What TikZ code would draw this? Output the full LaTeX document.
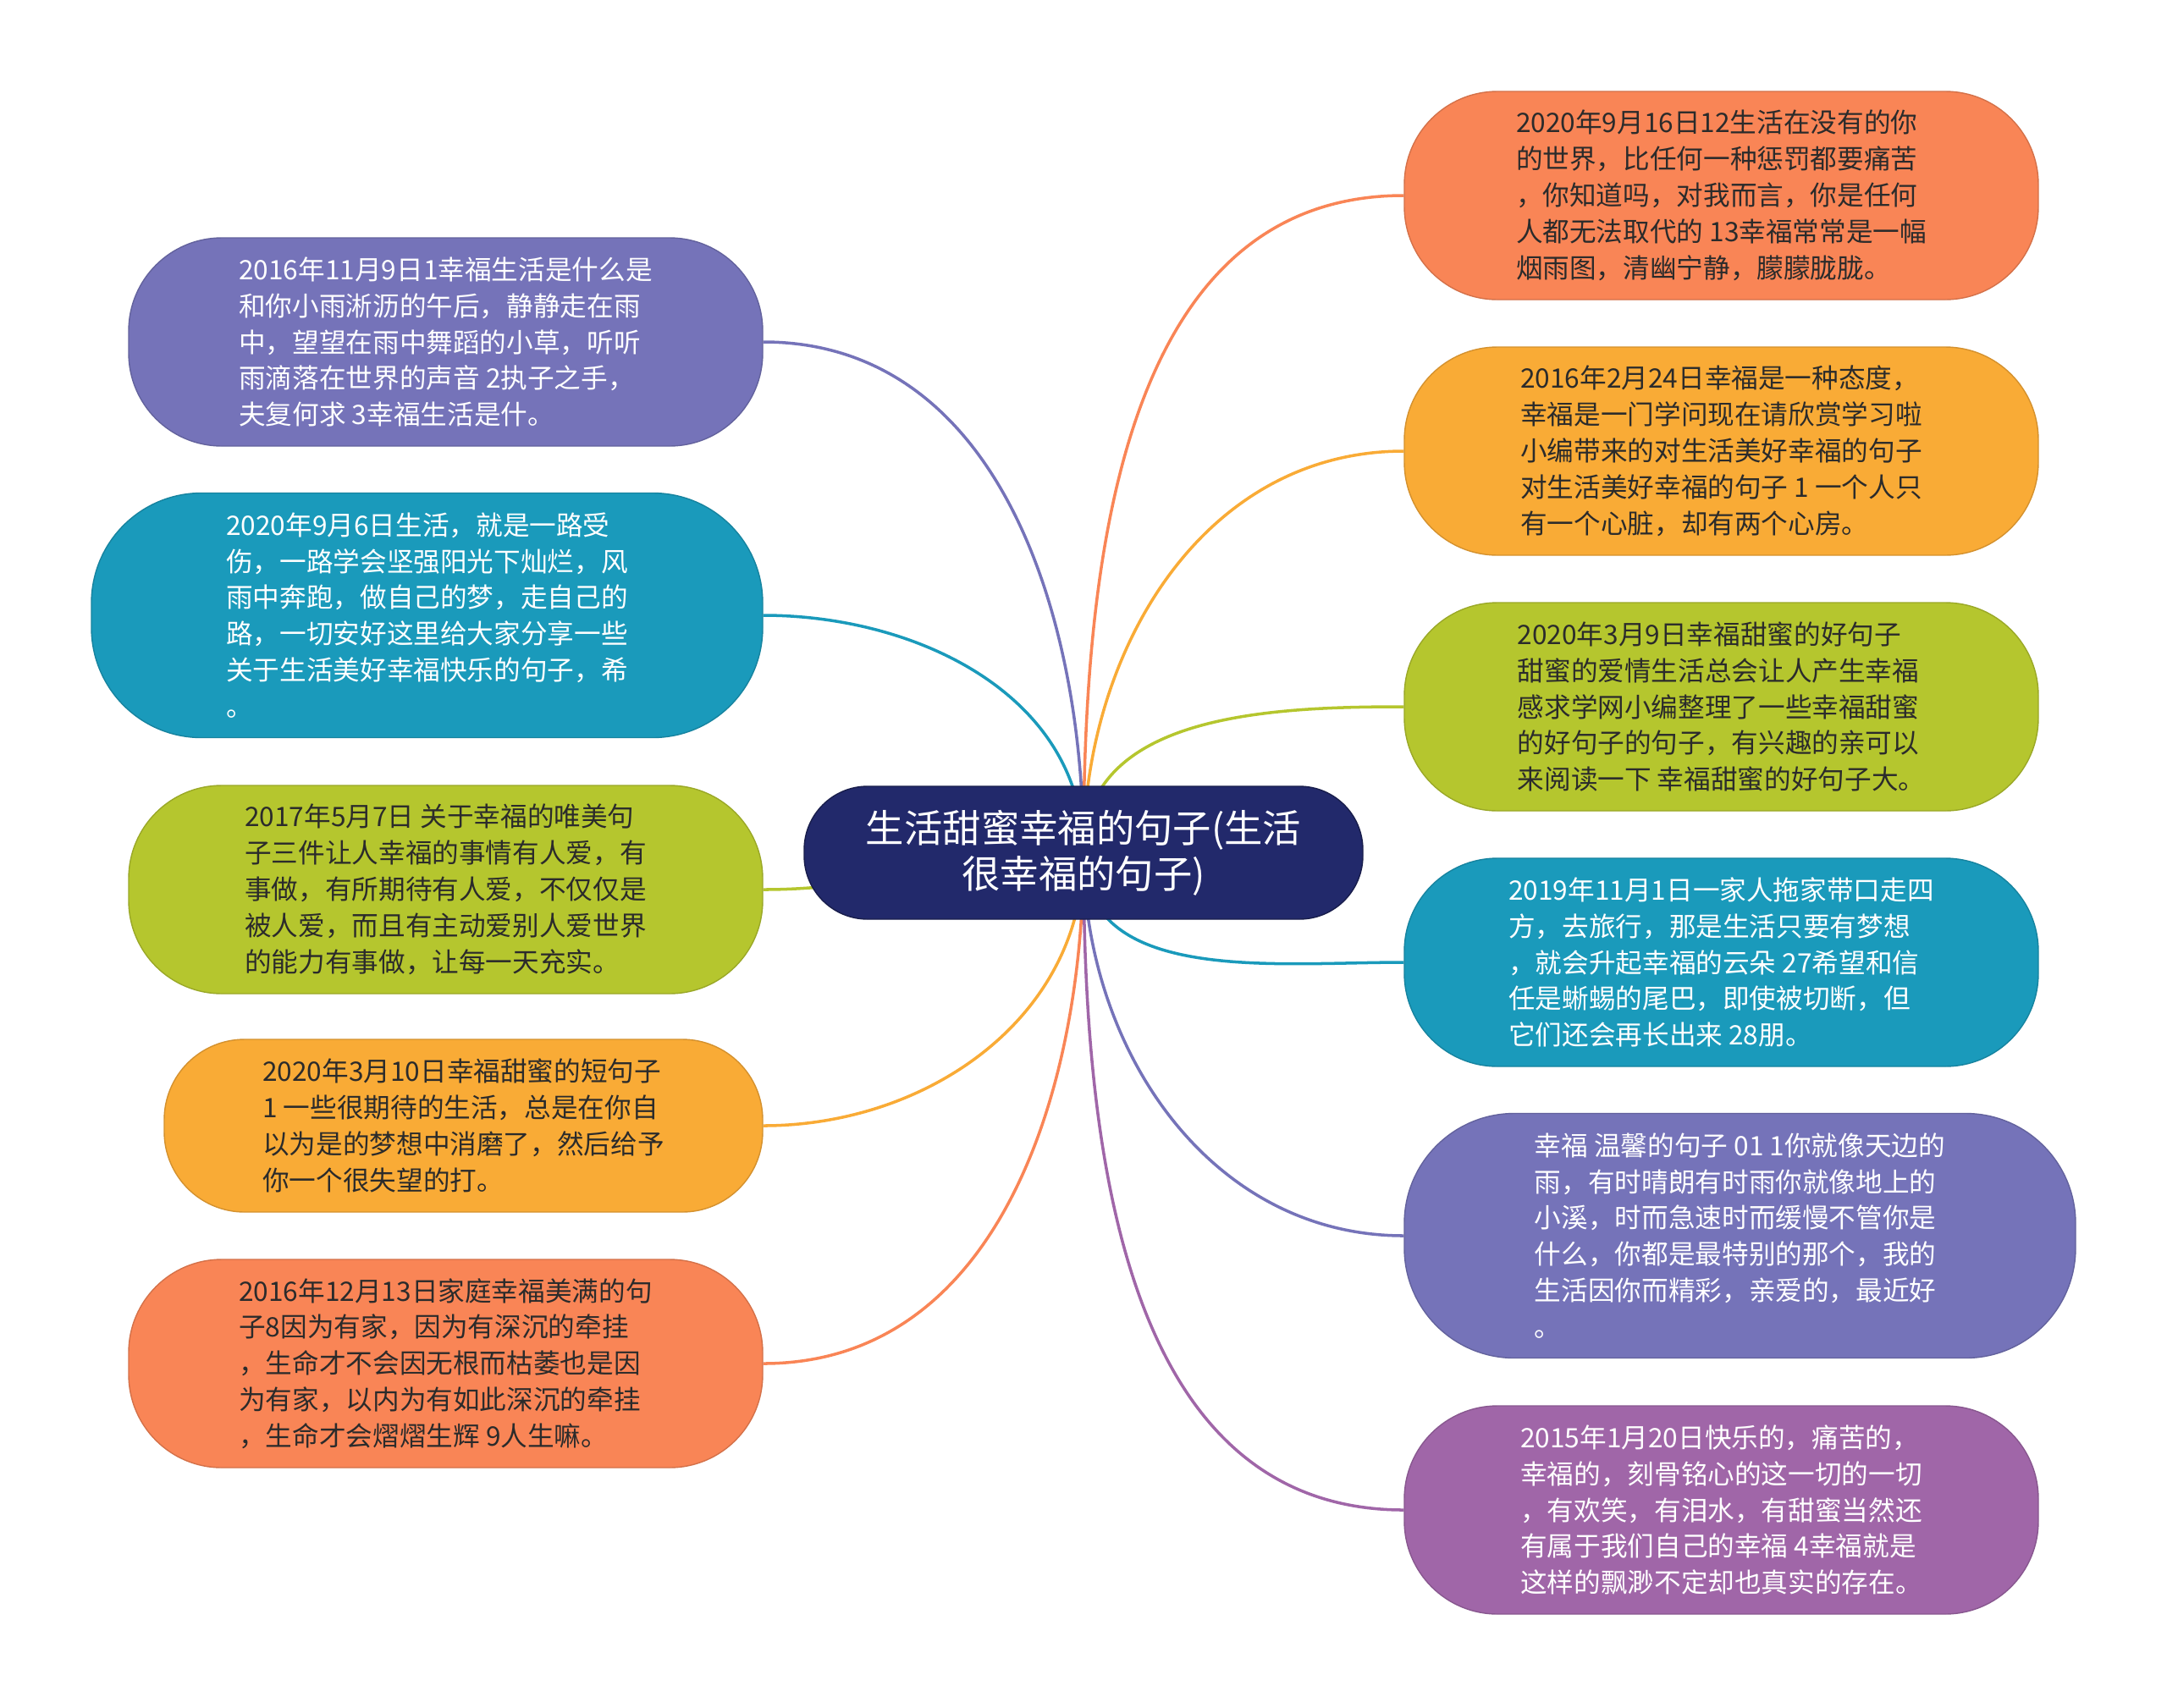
\documentclass[tikz,border=0pt]{standalone}
\usepackage{fontspec}
\setmainfont{Noto Sans CJK SC}
\usepackage{xcolor}
\usepackage{tikz}
\usetikzlibrary{backgrounds}

\definecolor{hubblue}{HTML}{22296B}
\definecolor{purp}{HTML}{7573B9}
\definecolor{teal}{HTML}{1A9ABB}
\definecolor{lime}{HTML}{B5C62E}
\definecolor{amber}{HTML}{F9AB36}
\definecolor{coral}{HTML}{F98556}
\definecolor{violet}{HTML}{A066A8}
\definecolor{ink}{HTML}{2B2B2B}

\begin{document}
\begin{tikzpicture}[
  leaf/.style={rectangle,rounded corners=1.1cm,inner sep=0pt,align=left,
    minimum width=7.49cm,minimum height=2.46cm,
    font=\fontsize{9.0}{12.2}\selectfont},
  light/.style={leaf,fill=#1,draw=#1!85!black,line width=0.4pt,text=white},
  dark/.style={leaf,fill=#1,draw=#1!85!black,line width=0.4pt,text=ink},
  tall/.style={minimum width=7.93cm,minimum height=2.89cm,rounded corners=1.3cm},
  hub/.style={rectangle,rounded corners=0.75cm,fill=hubblue,draw=hubblue!70!black,
    text=white,align=center,minimum width=6.6cm,minimum height=1.57cm,
    font=\fontsize{12.9}{15.3}\selectfont},
  link/.style={line width=1pt}
]
\useasboundingbox (0,0) rectangle (25.6,-20.17);

\node[hub] (hub) at (12.80,-10.075) {生活甜蜜幸福的句子(生活\\很幸福的句子)};

% left side
\node[light=purp] (l1) at (5.265,-4.04) {2016年11月9日1幸福生活是什么是\\和你小雨淅沥的午后，静静走在雨\\中，望望在雨中舞蹈的小草，听听\\雨滴落在世界的声音 2执子之手，\\夫复何求 3幸福生活是什。};
\node[light=teal,tall] (l2) at (5.045,-7.27) {2020年9月6日生活，就是一路受\\伤，一路学会坚强阳光下灿烂，风\\雨中奔跑，做自己的梦，走自己的\\路，一切安好这里给大家分享一些\\关于生活美好幸福快乐的句子，希\\。};
\node[dark=lime] (l3) at (5.265,-10.51) {2017年5月7日 关于幸福的唯美句\\子三件让人幸福的事情有人爱，有\\事做，有所期待有人爱，不仅仅是\\被人爱，而且有主动爱别人爱世界\\的能力有事做，让每一天充实。};
\node[dark=amber,minimum width=7.07cm,minimum height=2.04cm,rounded corners=0.95cm] (l4) at (5.475,-13.30) {2020年3月10日幸福甜蜜的短句子\\1 一些很期待的生活，总是在你自\\以为是的梦想中消磨了，然后给予\\你一个很失望的打。};
\node[dark=coral] (l5) at (5.265,-16.11) {2016年12月13日家庭幸福美满的句\\子8因为有家，因为有深沉的牵挂\\，生命才不会因无根而枯萎也是因\\为有家，以内为有如此深沉的牵挂\\，生命才会熠熠生辉 9人生嘛。};

% right side
\node[dark=coral] (r1) at (20.335,-2.31) {2020年9月16日12生活在没有的你\\的世界，比任何一种惩罚都要痛苦\\，你知道吗，对我而言，你是任何\\人都无法取代的 13幸福常常是一幅\\烟雨图，清幽宁静，朦朦胧胧。};
\node[dark=amber] (r2) at (20.335,-5.33) {2016年2月24日幸福是一种态度，\\幸福是一门学问现在请欣赏学习啦\\小编带来的对生活美好幸福的句子\\对生活美好幸福的句子 1 一个人只\\有一个心脏，却有两个心房。};
\node[dark=lime] (r3) at (20.335,-8.35) {2020年3月9日幸福甜蜜的好句子\\甜蜜的爱情生活总会让人产生幸福\\感求学网小编整理了一些幸福甜蜜\\的好句子的句子，有兴趣的亲可以\\来阅读一下 幸福甜蜜的好句子大。};
\node[light=teal] (r4) at (20.335,-11.37) {2019年11月1日一家人拖家带口走四\\方，去旅行，那是生活只要有梦想\\，就会升起幸福的云朵 27希望和信\\任是蜥蜴的尾巴，即使被切断，但\\它们还会再长出来 28朋。};
\node[light=purp,tall] (r5) at (20.555,-14.60) {幸福 温馨的句子 01 1你就像天边的\\雨，有时晴朗有时雨你就像地上的\\小溪，时而急速时而缓慢不管你是\\什么，你都是最特别的那个，我的\\生活因你而精彩，亲爱的，最近好\\。};
\node[light=violet] (r6) at (20.335,-17.84) {2015年1月20日快乐的，痛苦的，\\幸福的，刻骨铭心的这一切的一切\\，有欢笑，有泪水，有甜蜜当然还\\有属于我们自己的幸福 4幸福就是\\这样的飘渺不定却也真实的存在。};

\begin{scope}[on background layer]
\foreach \n/\c/\o in {l1/purp/90,l2/teal/90,l3/lime/180,l4/amber/-90,l5/coral/-90}
  \draw[link,\c] (hub.center) to[out=\o,in=0] (\n.east);
\foreach \n/\c/\o in {r1/coral/90,r2/amber/90,r3/lime/90,r4/teal/-90,r5/purp/-90,r6/violet/-90}
  \draw[link,\c] (hub.center) to[out=\o,in=180] (\n.west);
\end{scope}
\end{tikzpicture}
\end{document}
